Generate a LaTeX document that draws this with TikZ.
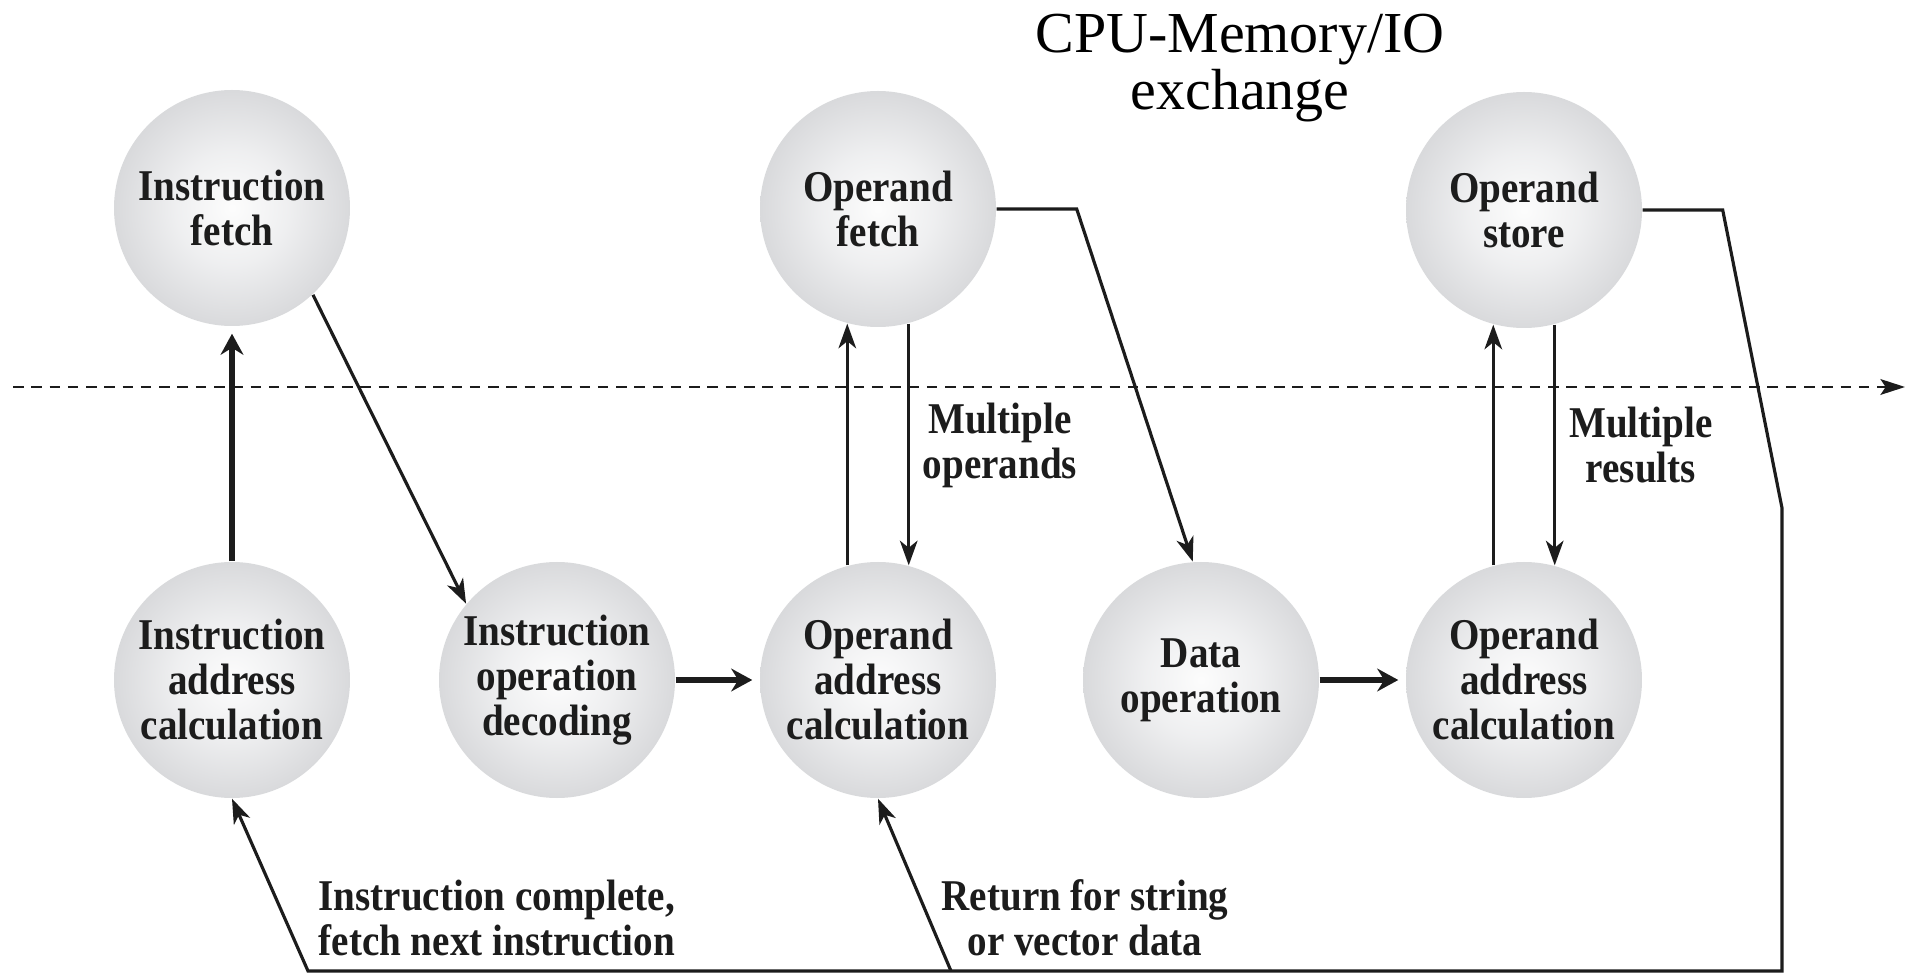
\documentclass[tikz,border=0pt]{standalone}
\usepackage{fontspec}
\setmainfont{Liberation Serif}
\newfontfamily\lblfont[FakeStretch=0.89]{Liberation Serif}
\usetikzlibrary{arrows.meta}
\definecolor{inkdark}{RGB}{28,28,28}
\pgfdeclareradialshading{ballshade}{\pgfpoint{0bp}{0bp}}{%
  rgb(0bp)=(0.99,0.99,0.99); rgb(12bp)=(0.935,0.937,0.942);
  rgb(25bp)=(0.85,0.853,0.862); rgb(50bp)=(0.85,0.853,0.862)}
\newcommand{\lblsize}{\fontsize{12.5}{12.8}\selectfont}

\begin{document}
\begin{tikzpicture}[
  proc/.style={circle,minimum size=2.36cm,inner sep=0pt,align=center,text=inkdark,
    shading=ballshade,font=\lblfont\bfseries\lblsize},
  note/.style={inner sep=0pt,text=inkdark,font=\lblfont\bfseries\lblsize},
  flow/.style={draw=inkdark,line width=0.9pt,-{Stealth[length=7pt,width=5pt,inset=2pt]}},
  bigflow/.style={draw=inkdark,line width=1.7pt,shorten >=2pt,
    -{Stealth[length=6pt,width=6.5pt,inset=2pt]}}]
\useasboundingbox (0,0) rectangle (19.1,9.75);
% upper row: memory / IO side
\node[proc] (ifet) at (2.32,7.67)  {Instruction\\fetch};
\node[proc] (ofet) at (8.78,7.66)  {Operand\\fetch};
\node[proc] (ost)  at (15.24,7.65) {Operand\\store};
% lower row: CPU side
\node[proc] (iac)  at (2.32,2.95)  {Instruction\\address\\calculation};
\node[proc] (iod)  at (5.57,2.95)  {Instruction\\operation\\decoding};
\node[proc] (oac)  at (8.78,2.95)  {Operand\\address\\calculation};
\node[proc] (dop)  at (12.01,2.95) {Data\\operation};
\node[proc] (oac2) at (15.24,2.95) {Operand\\address\\calculation};
\node[align=center,font=\fontsize{16.5}{16.4}\selectfont] (xchg) at (12.40,9.07)
   {CPU-Memory/IO\\exchange};
% boundary line
\coordinate (lnL) at (0.13,5.88);
\coordinate (lnR) at (19.05,5.88);
\draw[inkdark,line width=0.6pt,dash pattern=on 3pt off 2.2pt,
      -{Stealth[length=7pt,width=4.5pt,inset=1.5pt]}] (lnL) -- (lnR);
% return path
\coordinate (knee) at (17.82,4.67);
\coordinate (brc)  at (17.82,0.04);
\coordinate (blc)  at (3.08,0.04);
\coordinate (retb) at (9.51,0.04);
% connectors
\draw[bigflow] (iac) -- (ifet);
\draw[flow] (ifet.-47) -- (iod.140);
\draw[bigflow] (iod) -- (oac);
\draw[flow] (oac.105) -- (ofet.255);
\draw[flow] (ofet.285) -- (oac.75);
\draw[flow] (ofet.east) -- ++(0.80,0) -- (dop.94);
\draw[bigflow] (dop) -- (oac2);
\draw[flow] (oac2.105) -- (ost.255);
\draw[flow] (ost.285) -- (oac2.75);
\draw[flow] (ost.east) -- ++(0.80,0) -- (knee) -- (brc) -- (blc) -- (iac.south);
\draw[flow] (retb) -- (oac.south);
% labels
\node[note,align=center] (mops) at (10.00,5.30) {Multiple\\operands};
\node[note,align=center] (mres) at (16.41,5.30) {Multiple\\results};
\node[note,align=left,anchor=west] (inext) at (3.18,0.57)
   {Instruction complete,\\fetch next instruction};
\node[note,align=center] (rvec) at (10.85,0.57) {Return for string\\or vector data};
\end{tikzpicture}
\end{document}
